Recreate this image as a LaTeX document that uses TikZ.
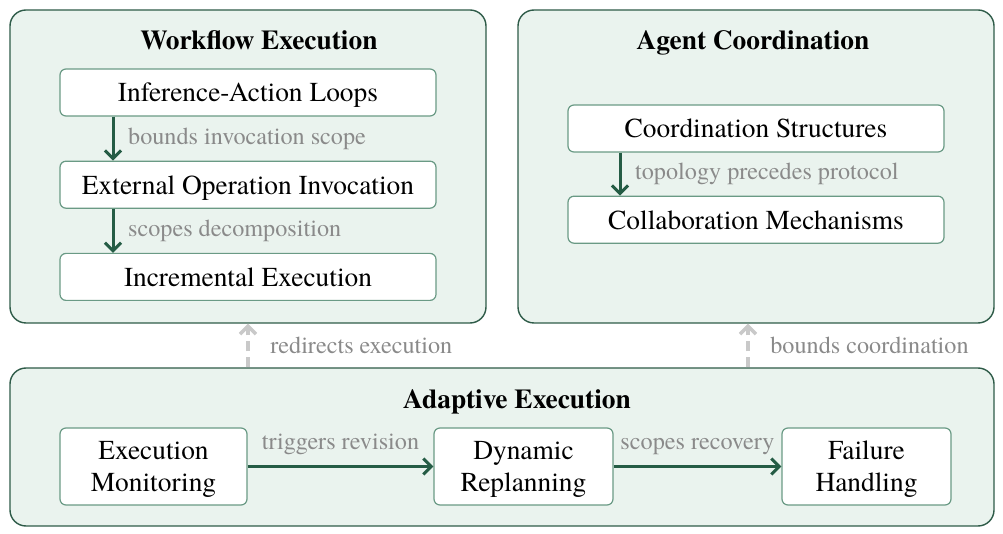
\documentclass[tikz,border=0pt]{standalone}
\usepackage{fontspec}
\setmainfont{texgyretermes}[Extension=.otf, UprightFont=*-regular, BoldFont=*-bold, ItalicFont=*-italic, BoldItalicFont=*-bolditalic]
\usetikzlibrary{arrows.meta,positioning}

\definecolor{groupfill}{HTML}{EAF3EE}
\definecolor{groupline}{HTML}{2E5B48}
\definecolor{boxline}{HTML}{6A9A85}
\definecolor{flowgreen}{HTML}{255C45}
\definecolor{lblgray}{HTML}{8A8A8A}
\definecolor{dashgray}{HTML}{C9C9C9}

\tikzset{
  group/.style={draw=groupline, fill=groupfill, line width=0.7pt, rounded corners=8pt},
  grouptitle/.style={font=\fontsize{13.7}{16}\selectfont\bfseries, anchor=base},
  stage/.style={draw=boxline, fill=white, line width=0.6pt, rounded corners=3pt,
    font=\fontsize{13.7}{16}\selectfont, align=center, text height=10pt, text depth=0.5pt},
  twoline/.style={text height=26pt},
  flow/.style={draw=flowgreen, line width=1.5pt, -{Straight Barb[length=4pt,width=8pt]}},
  feedback/.style={draw=dashgray, line width=1.7pt, dash pattern=on 5pt off 3pt,
    -{Straight Barb[length=4pt,width=8pt]}},
  lbl/.style={text=lblgray, font=\fontsize{12.1}{14}\selectfont}
}

\begin{document}
\begin{tikzpicture}[x=0.5pt, y=-0.5pt]
\useasboundingbox (0,0) rectangle (1003,534);

%% containers
\node[group, minimum width=238pt, minimum height=156.5pt](workflow) at (248,166.5){};
\node[group, minimum width=238pt, minimum height=156.5pt](agent) at (756,166.5){};
\node[group, minimum width=492pt, minimum height=79pt](adaptive) at (502,447){};

\node[grouptitle] (workflow_title) at (259,50) {Workflow Execution};
\node[grouptitle] (agent_title) at (753,50) {Agent Coordination};
\node[grouptitle] (adaptive_title) at (517,409) {Adaptive Execution};

%% WORKFLOW EXECUTION
\node[stage, minimum width=188pt, minimum height=23.5pt](inf_loops) at (248,92.5){Inference-Action Loops};
\node[stage, minimum width=188pt, minimum height=23.5pt, below=22pt of inf_loops](ext_op){External Operation Invocation};
\node[stage, minimum width=188pt, minimum height=23.5pt, below=22pt of ext_op](incr_exec){Incremental Execution};

\draw[flow] ([xshift=-67.5pt]inf_loops.south) -- node[lbl, right=3.5pt]{bounds invocation scope} ([xshift=-67.5pt]ext_op.north);
\draw[flow] ([xshift=-67.5pt]ext_op.south) -- node[lbl, right=3.5pt]{scopes decomposition} ([xshift=-67.5pt]incr_exec.north);

%% AGENT COORDINATION
\node[stage, minimum width=188pt, minimum height=23.5pt](coord_struct) at (756,128.5){Coordination Structures};
\node[stage, minimum width=188pt, minimum height=23.5pt, below=21.5pt of coord_struct](collab_mech){Collaboration Mechanisms};

\draw[flow] ([xshift=-68pt]coord_struct.south) -- node[lbl, right=3.5pt]{topology precedes protocol} ([xshift=-68pt]collab_mech.north);

%% ADAPTIVE EXECUTION
\node[stage, twoline, minimum width=93.5pt, minimum height=38.5pt](exec_mon) at (153.5,466.5){Execution\\Monitoring};
\node[stage, twoline, minimum width=89.5pt, minimum height=38.5pt](dyn_replan) at (523.5,466.5){Dynamic\\Replanning};
\node[stage, twoline, minimum width=84.5pt, minimum height=38.5pt](fail_hand) at (866.5,466.5){Failure\\Handling};

\draw[flow] (exec_mon) -- node[lbl, above=2pt]{triggers revision} (dyn_replan);
\draw[flow] (dyn_replan) -- node[lbl, above=2pt]{scopes recovery} (fail_hand);

%% feedback to the upper groups
\draw[feedback] (adaptive.north -| workflow.south) -- node[lbl, right=7pt]{redirects execution} (workflow.south);
\draw[feedback] (adaptive.north -| 748,0) -- node[lbl, right=7pt]{bounds coordination} ([xshift=-4pt]agent.south);

\end{tikzpicture}
\end{document}
